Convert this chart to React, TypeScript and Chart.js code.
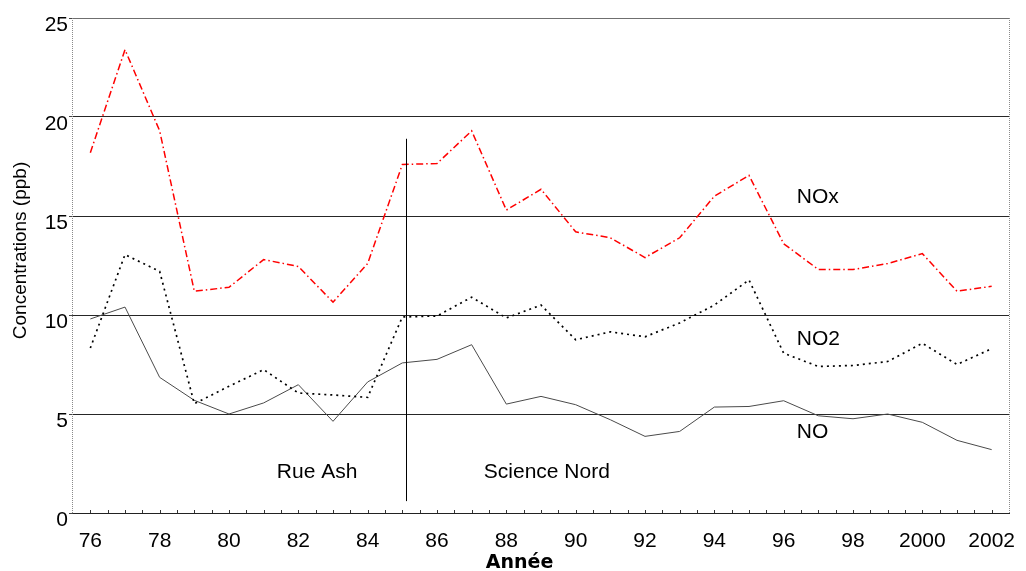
import React, { useEffect, useRef } from 'react';
import { Chart, registerables } from 'chart.js';

Chart.register(...registerables);

// ---- Data ----
const years = [76, 77, 78, 79, 80, 81, 82, 83, 84, 85, 86, 87, 88, 89, 90, 91, 92, 93, 94, 95, 96, 97, 98, 99, 100, 101, 102];
const noxValues = [18.2, 23.4, 19.3, 11.2, 11.4, 12.8, 12.45, 10.65, 12.6, 17.6, 17.65, 19.3, 15.3, 16.35, 14.2, 13.9, 12.9, 13.9, 16.0, 17.05, 13.6, 12.3, 12.3, 12.6, 13.1, 11.2, 11.45];
const no2Values = [8.33, 13.05, 12.2, 5.52, 6.4, 7.24, 6.06, 5.96, 5.84, 9.9, 9.95, 10.9, 9.85, 10.5, 8.75, 9.15, 8.9, 9.6, 10.5, 11.77, 8.07, 7.4, 7.45, 7.65, 8.57, 7.5, 8.3];
const noValues = [9.8, 10.4, 6.85, 5.69, 5.0, 5.56, 6.48, 4.63, 6.62, 7.58, 7.76, 8.5, 5.5, 5.89, 5.47, 4.71, 3.87, 4.12, 5.35, 5.38, 5.67, 4.91, 4.76, 5.0, 4.58, 3.67, 3.2];

const xLabelYears = [76, 78, 80, 82, 84, 86, 88, 90, 92, 94, 96, 98, 100, 102];
const xLabelTexts = ['76', '78', '80', '82', '84', '86', '88', '90', '92', '94', '96', '98', '2000', '2002'];
const yTickValues = [0, 5, 10, 15, 20, 25];

// station change marker (year) and its vertical extent (ppb)
const dividerYear = 85.1;
const dividerRange = [0.6, 18.9];

// in-chart text annotations (data coordinates)
const annotationTexts = ['NOx', 'NO2', 'NO', 'Rue Ash', 'Science Nord'];
const annotationX = [96.38, 96.38, 96.38, 81.38, 87.35];
const annotationY = [15.97, 8.8, 4.1, 2.05, 2.08];

const yTitle = 'Concentrations (ppb)';
const xTitle = 'Année';

const toPoints = (vals: number[]) => years.map((x, i) => ({ x, y: vals[i] }));

const decorPlugin = {
  id: 'decor',
  afterDraw(chart: any) {
    const { ctx, chartArea, scales } = chart;
    const xs = scales.x;
    const ys = scales.y;
    ctx.save();
    // left and right borders (dotted gray)
    ctx.strokeStyle = '#8a8a8a';
    ctx.lineWidth = 1;
    ctx.setLineDash([1, 1]);
    ctx.beginPath();
    const lx = Math.round(chartArea.left) - 0.5;
    const rx = Math.round(chartArea.right) + 0.5;
    ctx.moveTo(lx, chartArea.top);
    ctx.lineTo(lx, chartArea.bottom);
    ctx.moveTo(rx, chartArea.top);
    ctx.lineTo(rx, chartArea.bottom);
    ctx.stroke();
    ctx.setLineDash([]);
    // station divider
    ctx.strokeStyle = '#000';
    ctx.beginPath();
    const dx = Math.round(xs.getPixelForValue(dividerYear)) + 0.5;
    ctx.moveTo(dx, ys.getPixelForValue(dividerRange[1]));
    ctx.lineTo(dx, ys.getPixelForValue(dividerRange[0]));
    ctx.stroke();
    // inward half-year tick marks on x axis
    ctx.strokeStyle = '#333';
    ctx.beginPath();
    for (let v = xs.min + 0.5; v < xs.max - 0.01; v += 0.5) {
      const px = Math.round(xs.getPixelForValue(v)) + 0.5;
      ctx.moveTo(px, chartArea.bottom);
      ctx.lineTo(px, chartArea.bottom - 3);
    }
    ctx.stroke();
    // annotations
    ctx.fillStyle = '#000';
    ctx.font = '21px "Liberation Sans", Arial, sans-serif';
    ctx.textAlign = 'left';
    ctx.textBaseline = 'middle';
    annotationTexts.forEach((t, i) => {
      ctx.fillText(t, xs.getPixelForValue(annotationX[i]), ys.getPixelForValue(annotationY[i]));
    });
    // axis titles
    ctx.save();
    ctx.translate(26, (chartArea.top + chartArea.bottom) / 2 - 15);
    ctx.rotate(-Math.PI / 2);
    ctx.textAlign = 'center';
    ctx.textBaseline = 'alphabetic';
    ctx.font = '19px "Liberation Sans", Arial, sans-serif';
    ctx.fillText(yTitle, 0, 0);
    ctx.restore();
    ctx.textAlign = 'center';
    ctx.textBaseline = 'alphabetic';
    ctx.font = 'bold 19px "DejaVu Sans", Verdana, sans-serif';
    ctx.fillText(xTitle, 519.5, 568);
    ctx.restore();
  },
};

export default function App() {
  const canvasRef = useRef<HTMLCanvasElement | null>(null);

  useEffect(() => {
    document.body.style.margin = '0';
    const canvas = canvasRef.current;
    if (!canvas) return;
    const chart = new Chart(canvas, {
      type: 'line',
      data: {
        datasets: [
          {
            label: 'NOx',
            data: toPoints(noxValues),
            borderColor: '#ff0000',
            borderWidth: 1.5,
            borderDash: [7, 3, 1.5, 3],
            pointRadius: 0,
            tension: 0,
            fill: false,
          },
          {
            label: 'NO2',
            data: toPoints(no2Values),
            borderColor: '#000000',
            borderWidth: 1.7,
            borderDash: [2, 4],
            pointRadius: 0,
            tension: 0,
            fill: false,
          },
          {
            label: 'NO',
            data: toPoints(noValues),
            borderColor: '#4a4a4a',
            borderWidth: 1,
            pointRadius: 0,
            tension: 0,
            fill: false,
          },
        ],
      },
      options: {
        animation: false,
        responsive: false,
        devicePixelRatio: 1,
        layout: { padding: { top: 18, right: 17, left: 0, bottom: 0 } },
        plugins: {
          legend: { display: false },
          tooltip: { enabled: false },
        },
        scales: {
          x: {
            type: 'linear',
            min: 75.5,
            max: 102.5,
            afterFit: (s: any) => {
              s.height = 58;
            },
            grid: { display: false, drawTicks: false },
            border: { display: true, color: '#222', width: 1 },
            ticks: {
              stepSize: 0.5,
              autoSkip: false,
              maxRotation: 0,
              padding: 16,
              color: '#000',
              font: { family: '"Liberation Sans", Arial, sans-serif', size: 21 },
              callback: (v: any) => {
                const n = Number(v);
                const idx = xLabelYears.findIndex((y) => Math.abs(y - n) < 1e-6);
                return idx >= 0 ? xLabelTexts[idx] : '';
              },
            },
          },
          y: {
            min: 0,
            max: 25,
            afterFit: (s: any) => {
              s.width = 73;
            },
            afterBuildTicks: (s: any) => {
              s.ticks = yTickValues.map((value) => ({ value }));
            },
            grid: {
              color: (c: any) => (c.tick && c.tick.value === 0 ? 'rgba(0,0,0,0)' : c.tick && c.tick.value === 25 ? '#6f6f6f' : '#262626'),
              tickColor: '#444',
              tickLength: 4,
              lineWidth: 1,
            },
            border: { display: false },
            ticks: {
              padding: 1,
              labelOffset: 7,
              color: '#000',
              font: { family: '"Liberation Sans", Arial, sans-serif', size: 21 },
            },
          },
        },
      },
      plugins: [decorPlugin],
    });
    return () => chart.destroy();
  }, []);

  return (
    <div style={{ width: 1026, height: 571, background: '#fff' }}>
      <canvas ref={canvasRef} width={1026} height={571} style={{ display: 'block' }} />
    </div>
  );
}
